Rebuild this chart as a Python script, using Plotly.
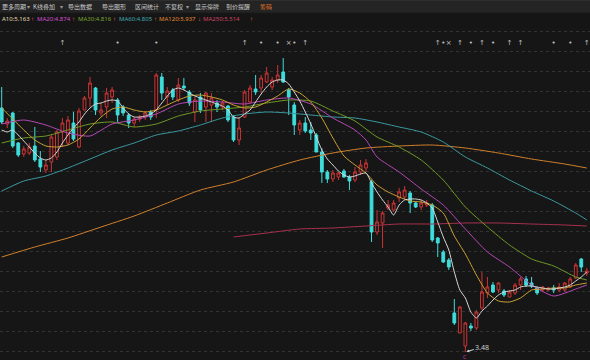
import plotly.graph_objects as go

# ---------------- data (price units) ----------------
bars = list(range(107))
opens = [5.92,5.76,5.87,5.57,5.46,5.47,5.54,5.41,5.30,5.38,
         5.43,5.68,5.57,5.77,5.53,5.90,6.02,6.12,5.87,5.93,
         6.03,6.00,5.93,5.85,5.77,5.81,5.83,5.88,5.90,6.23,
         6.03,6.10,6.00,6.14,6.08,5.88,6.03,5.93,5.95,5.97,
         5.93,5.94,5.83,5.60,5.83,5.98,6.11,6.12,6.18,6.13,
         6.20,6.28,6.10,5.95,5.70,5.77,5.70,5.65,5.48,5.28,
         5.21,5.23,5.29,5.23,5.20,5.28,5.32,5.18,4.68,4.77,
         4.92,4.90,5.02,5.03,5.07,4.97,4.93,4.95,4.95,4.62,
         4.48,4.40,3.87,3.67,3.54,3.74,3.72,3.92,4.07,4.15,
         4.10,4.09,4.03,4.07,4.15,4.21,4.17,4.12,4.10,4.10,
         4.12,4.10,4.10,4.13,4.22,4.41,4.27]
highs = [6.13,5.82,5.88,5.58,5.54,5.57,5.73,5.49,5.40,5.65,
         5.70,5.82,5.84,5.88,5.92,6.04,6.23,6.13,5.97,6.12,
         6.13,6.02,5.95,5.87,5.83,5.85,5.89,5.90,6.27,6.27,
         6.13,6.12,6.22,6.22,6.10,6.03,6.07,6.08,6.07,6.00,
         5.99,5.95,5.85,5.82,6.10,6.15,6.25,6.25,6.33,6.23,
         6.35,6.42,6.12,5.98,5.80,5.83,5.78,5.67,5.52,5.30,
         5.30,5.28,5.31,5.25,5.33,5.40,5.41,5.20,4.90,4.89,
         5.00,5.00,5.12,5.14,5.09,4.98,5.00,5.00,4.97,4.63,
         4.50,4.42,4.01,3.94,3.78,3.77,3.90,4.28,4.23,4.18,
         4.18,4.11,4.10,4.17,4.23,4.24,4.23,4.13,4.14,4.13,
         4.15,4.17,4.18,4.23,4.37,4.42,4.32]
lows = [5.76,5.72,5.52,5.43,5.43,5.45,5.38,5.28,5.27,5.28,
        5.40,5.53,5.55,5.59,5.52,5.90,5.93,5.85,5.84,5.82,
        5.97,5.78,5.84,5.72,5.73,5.78,5.80,5.80,5.82,6.00,
        5.95,6.00,5.98,6.10,5.94,5.78,5.87,5.78,5.78,5.88,
        5.90,5.78,5.58,5.55,5.82,5.97,6.05,6.07,6.17,6.10,
        6.17,6.17,5.85,5.65,5.65,5.67,5.60,5.48,5.17,5.17,
        5.18,5.20,5.22,5.10,5.18,5.25,5.28,4.58,4.65,4.52,
        4.90,4.88,4.98,5.00,4.87,4.92,4.90,4.93,4.58,4.43,
        4.37,4.30,3.75,3.67,3.48,3.69,3.70,3.90,4.02,4.07,
        4.07,4.03,4.03,4.05,4.10,4.13,4.12,4.05,4.08,4.09,
        4.07,4.08,4.08,4.12,4.21,4.28,4.24]
closes = [5.78,5.79,5.54,5.45,5.51,5.53,5.40,5.33,5.35,5.63,
          5.68,5.77,5.80,5.61,5.89,6.02,6.17,5.90,5.90,6.07,
          6.10,5.85,5.87,5.77,5.81,5.83,5.87,5.83,6.25,6.07,
          6.09,6.03,6.15,6.12,5.97,6.00,5.90,6.07,6.02,5.93,
          5.97,5.80,5.60,5.72,6.08,6.12,6.08,6.22,6.27,6.20,
          6.25,6.18,6.03,5.75,5.77,5.69,5.67,5.48,5.28,5.21,
          5.27,5.27,5.23,5.19,5.28,5.35,5.37,4.68,4.78,4.87,
          4.95,4.97,5.08,5.10,4.97,4.93,4.97,4.97,4.60,4.57,
          4.38,4.33,3.77,3.93,3.77,3.72,3.88,4.08,4.13,4.08,
          4.17,4.05,4.08,4.15,4.21,4.15,4.14,4.07,4.13,4.12,
          4.10,4.13,4.17,4.21,4.35,4.33,4.29]

ma5_val = [5.70,5.68,5.70,5.65,5.59,5.53,5.47,5.42,5.40,5.42,
           5.48,5.57,5.65,5.72,5.78,5.86,5.92,5.96,5.97,5.99,
           6.00,5.99,5.92,5.86,5.83,5.83,5.84,5.86,5.90,5.97,
           6.04,6.10,6.12,6.10,6.07,6.04,6.02,6.00,5.98,5.96,
           5.94,5.90,5.83,5.82,5.86,5.90,5.98,6.06,6.13,6.18,
           6.20,6.20,6.16,6.08,5.99,5.88,5.76,5.63,5.50,5.41,
           5.35,5.29,5.25,5.23,5.24,5.26,5.27,5.17,5.08,5.00,
           4.93,4.85,4.95,5.00,5.01,5.01,5.00,4.97,4.92,4.78,
           4.63,4.50,4.28,4.10,4.02,3.88,3.82,3.89,3.94,4.00,
           4.05,4.08,4.09,4.10,4.13,4.14,4.14,4.13,4.12,4.11,
           4.11,4.12,4.13,4.15,4.19,4.23,4.28]
ma5_idx = bars

ma10_idx = list(range(0, 107, 2))
ma10_val = [5.92,5.81,5.70,5.60,5.54,5.53,5.55,5.61,5.72,5.83,
            5.91,5.93,5.90,5.88,5.90,5.95,6.00,6.04,6.05,6.03,
            6.00,5.95,5.92,5.93,5.98,6.04,6.11,6.07,5.98,5.82,
            5.62,5.44,5.35,5.27,5.15,5.08,5.03,4.99,4.98,4.95,
            4.87,4.64,4.46,4.25,4.07,3.99,3.98,4.02,4.10,4.11,
            4.12,4.12,4.15,4.17]

ma20_idx = [0,4,8,12,16,20,24,28,32,36,40,44,48,52,56,60,64,66,68,72,76,80,84,88,92,96,100,104,106]
ma20_val = [5.76,5.80,5.75,5.67,5.64,5.76,5.80,5.86,5.96,5.99,5.98,5.96,6.00,6.02,5.96,5.82,
            5.70,5.60,5.43,5.28,5.11,4.95,4.71,4.48,4.33,4.15,4.04,4.11,4.15]

ma30_idx = [0,4,8,12,16,20,24,28,32,36,40,44,48,52,56,60,64,68,72,76,80,84,88,92,96,100,104,106]
ma30_val = [5.57,5.62,5.64,5.70,5.76,5.78,5.73,5.76,5.84,5.89,5.91,5.93,5.97,6.00,5.99,5.89,
            5.79,5.63,5.53,5.40,5.20,4.93,4.73,4.55,4.41,4.34,4.23,4.20]

ma60_idx = [0,4,8,12,16,20,24,28,32,36,40,44,48,52,56,60,64,68,72,76,80,84,88,92,96,100,104,106]
ma60_val = [5.09,5.19,5.24,5.32,5.41,5.50,5.57,5.65,5.69,5.75,5.82,5.86,5.88,5.87,5.85,5.83,
            5.82,5.78,5.73,5.68,5.58,5.43,5.32,5.20,5.09,4.99,4.87,4.80]

ma120_idx = [0,6,12,18,24,30,36,42,48,54,60,66,72,78,84,90,96,102,106]
ma120_val = [4.43,4.53,4.62,4.73,4.84,4.97,5.10,5.18,5.30,5.40,5.47,5.52,5.54,5.55,5.52,5.47,
             5.41,5.36,5.32]

ma250_idx = [42,48,54,60,66,72,78,84,90,96,102,106]
ma250_val = [4.63,4.67,4.71,4.72,4.74,4.76,4.76,4.77,4.77,4.76,4.75,4.74]

low_label = "3.48"
low_bar = 84

marker_idx = [11,21,28,44,47,50,52,53,55,79,80,81,83,85,87,89,92,94,100,103,106]
marker_sym = ["↑","•","•","↑","•","•","×","•","↑","↑","•","×","↑","•","↑","•","↑","↑","•","•","↑"]

toolbar_items = ["更多周期","▾","K线叠加","▾","导出数据","导出图形","区间统计","不复权","▾","显示停牌","到价提醒","筹码"]
legend_items = ["A10:5.163","↑","MA20:4.874","↑","MA30:4.816","↑","MA60:4.805","↑","MA120:5.937","↓","MA250:5.514","↑"]

# ---------------- styling ----------------
W, H = 590, 360
TOP = 28
BG = "#161616"
RED = "#cc3434"
CYAN = "#3fdcdc"
YR = [3.40, 6.72]
XR = [-0.308, 106.58]

fig = go.Figure()
fig.add_trace(go.Candlestick(
    x=bars, open=opens, high=highs, low=lows, close=closes,
    increasing=dict(line=dict(color=RED, width=1), fillcolor=BG),
    decreasing=dict(line=dict(color=CYAN, width=1), fillcolor=CYAN),
    whiskerwidth=0, hoverinfo="skip", name="K"))

lines = [
    (ma250_idx, ma250_val, "#a8304e", "MA250"),
    (ma120_idx, ma120_val, "#d0802a", "MA120"),
    (ma60_idx, ma60_val, "#3a9aa2", "MA60"),
    (ma30_idx, ma30_val, "#6e9a26", "MA30"),
    (ma20_idx, ma20_val, "#b648b6", "MA20"),
    (ma10_idx, ma10_val, "#c9a032", "MA10"),
    (ma5_idx, ma5_val, "#d8d8d8", "MA5"),
]
for xi, yv, col, nm in lines:
    fig.add_trace(go.Scatter(x=xi, y=yv, mode="lines", name=nm,
                             line=dict(color=col, width=1, shape="spline", smoothing=0.6),
                             hoverinfo="skip"))

# event markers near the top of the plot
fig.add_trace(go.Scatter(x=marker_idx, y=[YR[1] - 0.15] * len(marker_idx),
                         mode="text", text=marker_sym,
                         textfont=dict(color="#c4c4c4", size=7, family="DejaVu Sans"),
                         hoverinfo="skip"))

def py(p):  # pixel row -> paper y
    return (H - p) / (H - TOP)

shapes = [
    dict(type="rect", xref="paper", yref="paper", x0=0, x1=1, y0=py(13), y1=py(0),
         fillcolor="#242424", line=dict(width=0), layer="above"),
    dict(type="rect", xref="paper", yref="paper", x0=0, x1=1, y0=py(1), y1=py(0),
         fillcolor="#2e2e2e", line=dict(width=0), layer="above"),
    dict(type="rect", xref="paper", yref="paper", x0=0, x1=1, y0=py(TOP), y1=py(13),
         fillcolor="#151515", line=dict(width=0), layer="above"),
    dict(type="line", xref="paper", yref="paper", x0=0, x1=1, y0=py(13), y1=py(13),
         line=dict(color="#1b1b1b", width=1), layer="above"),
]

annotations = []
tb_x = [0, 25, 31, 58, 66, 100, 133, 163, 184, 193, 224, 258]
for txt, xpx in zip(toolbar_items, tb_x):
    col = "#e2752a" if txt == "筹码" else ("#9a9a9a" if txt == "▾" else "#c9c9c9")
    annotations.append(dict(text=txt, x=xpx / W, y=py(6.5), xref="paper", yref="paper",
                            xanchor="left", yanchor="middle", showarrow=False,
                            font=dict(family="Noto Sans CJK SC", size=6, color=col)))

lg_x = [0, 29, 35, 70, 76, 111, 117, 152, 157, 196, 201, 248]
lg_col = ["#e6dcb4", "#e0603a", "#d050d0", "#e0603a", "#7aa630", "#e0603a",
          "#42aab2", "#e0603a", "#e08a30", "#e0603a", "#d04464", "#e0603a"]
for txt, xpx, col in zip(legend_items, lg_x, lg_col):
    annotations.append(dict(text=txt, x=xpx / W, y=py(19), xref="paper", yref="paper",
                            xanchor="left", yanchor="middle", showarrow=False,
                            font=dict(family="Noto Sans", size=6, color=col)))

annotations.append(dict(text=low_label, x=low_bar, y=lows[low_bar], xref="x", yref="y",
                        showarrow=True, arrowhead=2, arrowsize=0.6, arrowwidth=1,
                        arrowcolor="#d0d0d0", ax=17, ay=-5, standoff=1,
                        font=dict(family="Noto Sans", size=7, color="#d0d0d0")))
annotations.append(dict(text="C", x=low_bar, y=lows[low_bar], xref="x", yref="y",
                        yanchor="top", showarrow=False, yshift=0,
                        font=dict(family="DejaVu Sans", size=5, color="#e030d0")))

fig.update_layout(
    width=W, height=H,
    margin=dict(l=0, r=0, t=TOP, b=0, pad=0),
    paper_bgcolor=BG, plot_bgcolor=BG,
    showlegend=False,
    shapes=shapes, annotations=annotations,
    xaxis=dict(range=XR, visible=False, rangeslider=dict(visible=False), fixedrange=True),
    yaxis=dict(range=YR, tick0=3.49, dtick=0.2, showticklabels=False, ticks="",
               showgrid=True, gridcolor="#323232", griddash="dot", gridwidth=1,
               zeroline=False, showline=False, fixedrange=True),
    boxgap=0.28,
)
fig.write_html("out.html", config={"displayModeBar": False},
               post_script="document.body.style.margin='0';document.body.style.background='#161616';")
